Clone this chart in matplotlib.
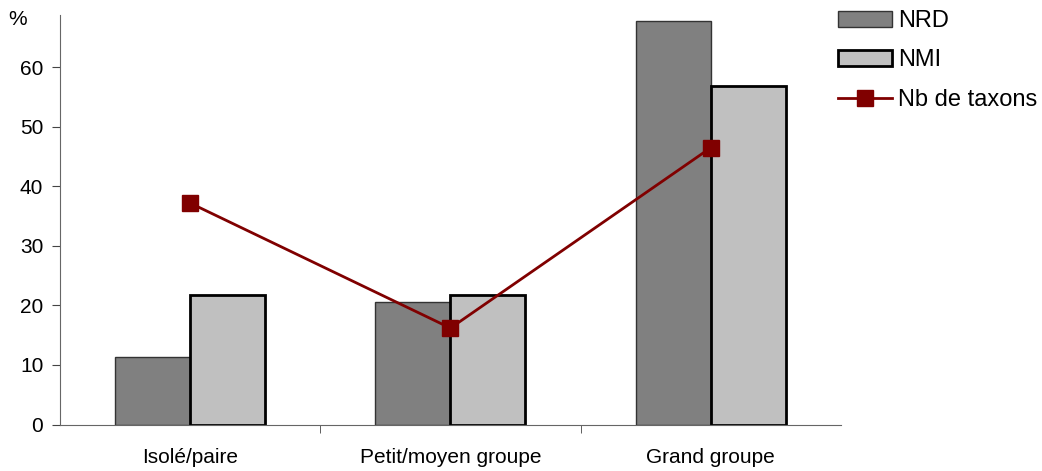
import numpy as np
import matplotlib
matplotlib.use('Agg')
import matplotlib.pyplot as plt

plt.rcParams['font.family'] = ['Liberation Sans', 'DejaVu Sans']

categories = ['Isolé/paire', 'Petit/moyen groupe', 'Grand groupe']
nrd = [11.4, 20.6, 67.8]
nmi = [21.7, 21.7, 56.8]
nb_taxons = [37.2, 16.2, 46.5]

x = np.arange(len(categories))
w = 0.288
fs = 15

fig = plt.figure(figsize=(10.42, 4.71), dpi=100)
ax = fig.add_axes([0.0576, 0.0987, 0.7494, 0.8695])

b1 = ax.bar(x - w / 2, nrd, w, color='#808080', edgecolor='#333333', linewidth=1, label='NRD', zorder=2)
b2 = ax.bar(x + w / 2, nmi, w, color='#C0C0C0', edgecolor='black', linewidth=2, label='NMI', zorder=2)
ln, = ax.plot(x, nb_taxons, color='#800000', linewidth=2, marker='s', markersize=11.5,
              label='Nb de taxons', zorder=3)

ax.set_xlim(-0.5, 2.5)
ax.set_ylim(0, 68.8)
ax.set_yticks(np.arange(0, 61, 10))
ax.tick_params(axis='y', direction='out', length=6, labelsize=fs, color='#444444', pad=6)
ax.set_xticks(x)
ax.set_xticklabels(categories, fontsize=fs)
ax.tick_params(axis='x', length=0, pad=17)
ax.set_xticks([0.5, 1.5], minor=True)
ax.tick_params(axis='x', which='minor', direction='out', length=6, color='#444444')

for s in ['top', 'right']:
    ax.spines[s].set_visible(False)
for s in ['left', 'bottom']:
    ax.spines[s].set_color('#666666')

fig.text(0.008, 1 - 10 / 471, '%', fontsize=fs, va='top')

# legend, slightly larger text than the axes
ax.legend([b1, b2, ln], ['NRD', 'NMI', 'Nb de taxons'],
          loc='upper left', bbox_to_anchor=(838 / 1042, 1 - 10 / 471), bbox_transform=fig.transFigure,
          frameon=False, fontsize=17, handlelength=2.29, handleheight=0.68,
          labelspacing=0.74, handletextpad=0.25, borderpad=0, borderaxespad=0)

fig.savefig('out.png', dpi=100)
